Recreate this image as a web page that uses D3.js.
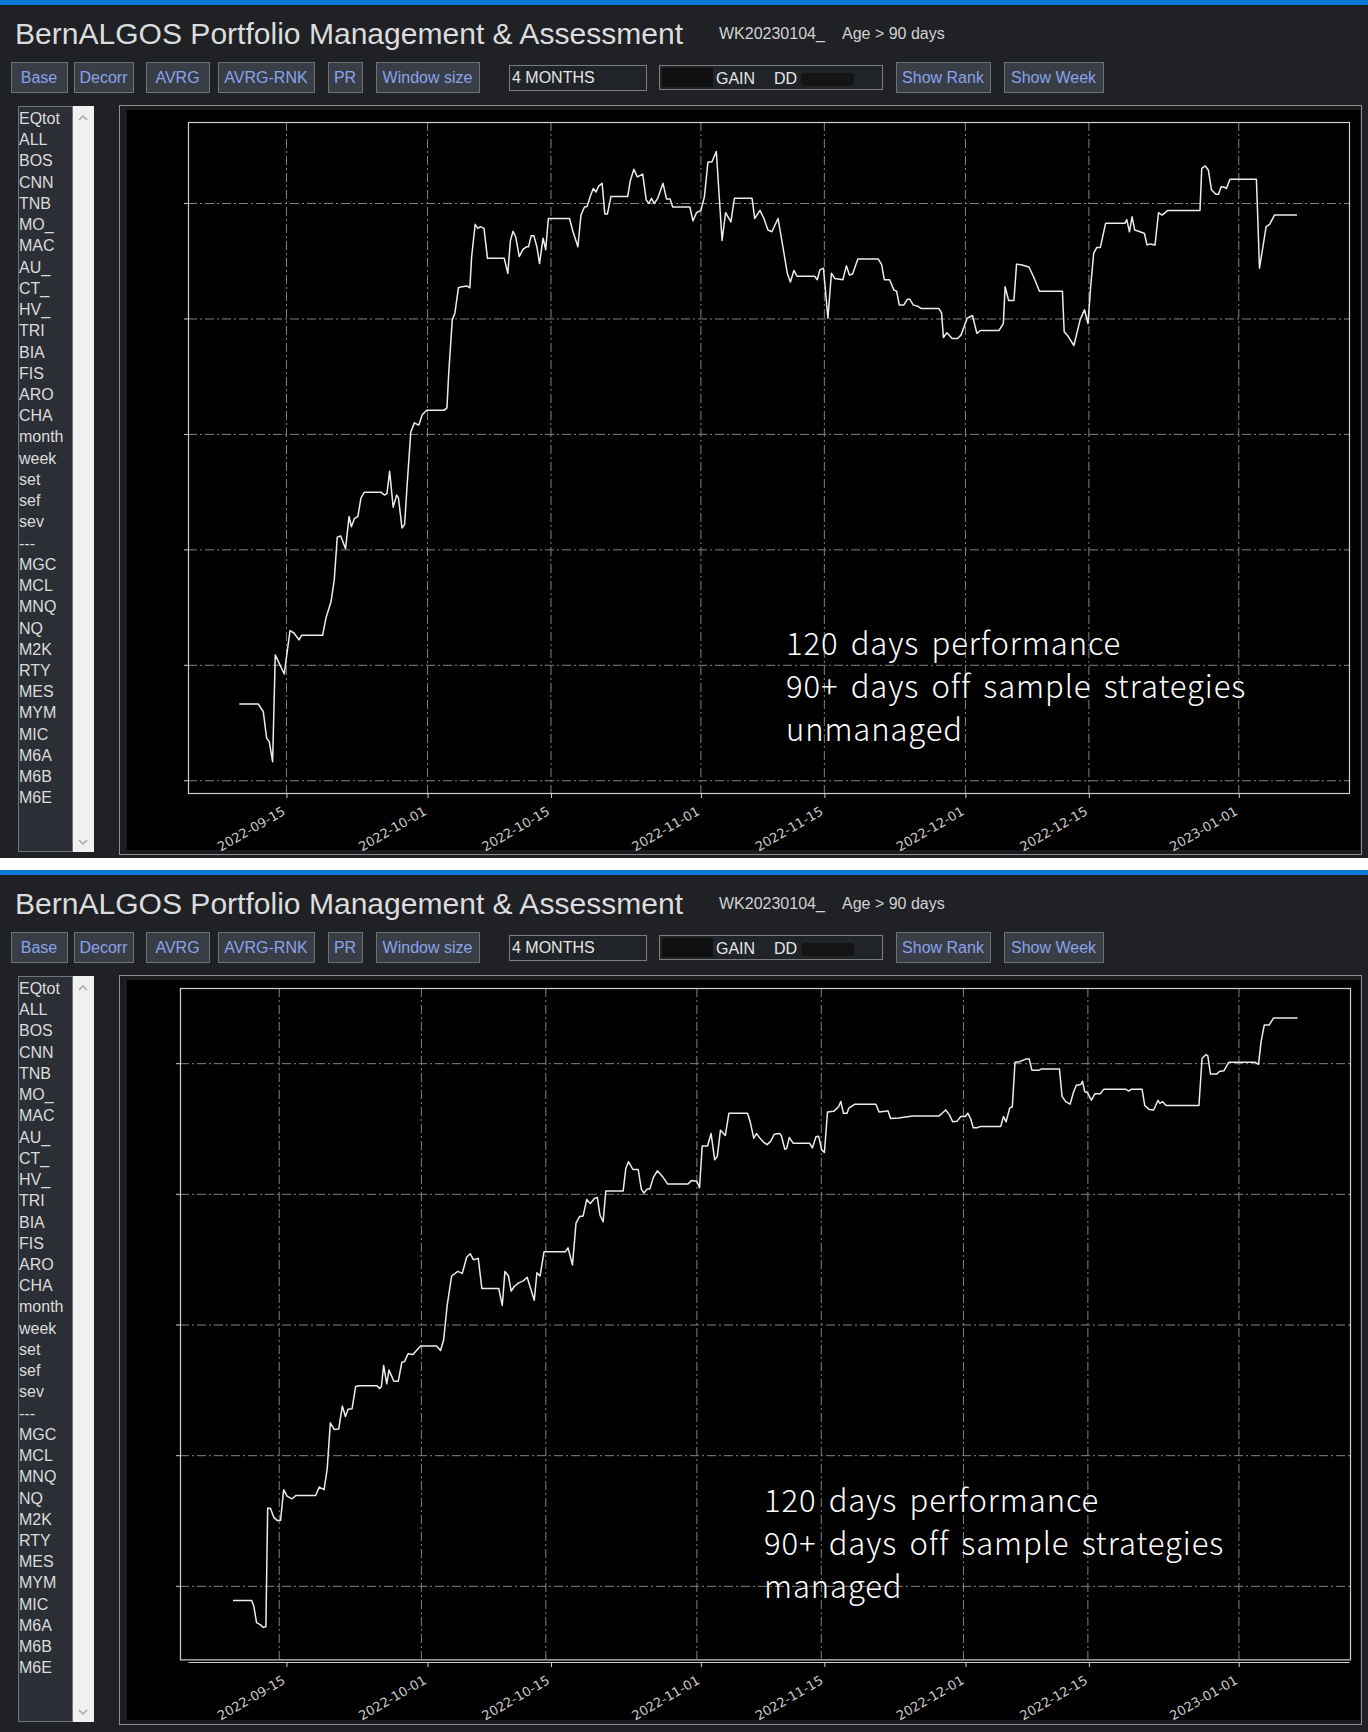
<!DOCTYPE html>
<html>
<head>
<meta charset="utf-8">
<script src="https://cdn.jsdelivr.net/npm/d3@7"></script>
<style>
  body { margin: 0; background: #ffffff; }
  svg { display: block; }
</style>
</head>
<body>
<div id="chart"></div>
<script>
// ---- data ----
// x = days after 2022-09-15, y = equity in grid units (one gridline = 10)

let days1 = [-5.35,-3.2,-2.63,-2.25,-1.95,-1.57,-1.27,-0.25,0.4,0.85,1.42,1.72,4.1,4.48,5.05,5.42,5.76,6.15,6.7,7.1,
  7.36,7.7,8.1,8.45,8.84,10.7,11.1,11.4,11.7,12.1,12.5,12.7,13.1,13.4,13.7,14.1,14.5,15.0,15.4,15.9,
  17.9,18.2,18.4,18.8,19.1,19.5,19.9,20.5,20.8,21.0,21.4,21.7,22.0,22.4,22.8,24.7,25.1,25.4,25.7,26.0,
  26.4,26.8,27.2,27.45,27.75,28.06,28.4,28.7,29.1,29.4,29.7,32.1,32.5,33.05,33.4,33.8,34.1,34.45,34.8,35.1,
  35.4,35.8,36.1,36.4,36.8,38.7,39.0,39.4,39.8,40.4,40.8,41.1,41.4,41.7,42.1,42.7,43.1,43.5,43.8,45.75,
  46.1,46.5,47.0,47.4,47.8,48.25,48.75,49.4,49.8,50.4,50.8,52.8,53.1,53.7,54.15,54.6,55.05,55.75,56.3,56.8,
  57.15,57.55,57.9,59.9,60.2,60.5,60.9,61.4,61.8,62.2,63.1,63.5,63.85,64.2,64.8,67.1,67.5,67.8,68.4,68.9,
  69.2,69.5,70.0,70.4,70.7,71.1,71.6,72.0,74.0,74.3,74.5,74.9,75.5,76.1,76.5,77.2,77.8,78.3,78.7,80.8,
  81.3,81.5,81.9,82.5,82.8,83.3,84.2,84.7,85.4,88.0,88.2,88.65,89.3,90.0,90.5,90.9,91.2,91.55,91.9,92.3,
  92.9,95.1,95.3,95.6,95.9,96.2,96.8,97.3,97.6,97.9,98.5,98.9,99.3,99.95,103.6,103.8,104.2,104.55,104.9,105.4,
  105.7,106.0,106.4,106.6,107.0,110.0,110.35,111.1,111.5,112.05,114.6]
let eqUnmanaged = [6.65,6.65,5.99,3.68,3.39,1.65,10.9,9.25,13.0,12.8,12.2,12.6,12.6,14.1,15.5,17.4,21.1,21.2,20.1,22.9,
  22.0,22.7,22.9,24.5,25.0,25.0,24.75,24.9,26.8,23.7,24.75,24.5,21.9,22.2,25.8,30.2,31.0,30.8,31.7,32.1,
  32.1,32.3,35.3,39.9,40.5,42.7,42.8,42.85,42.7,45.4,48.2,47.85,48.0,47.85,45.25,45.25,43.95,46.8,47.6,47.1,
  45.4,46.0,46.25,46.25,47.2,47.2,46.25,44.8,47.0,46.0,48.7,48.7,47.55,46.25,49.0,49.7,49.75,50.6,51.3,51.0,
  51.5,51.75,49.1,49.1,50.6,50.6,52.0,52.96,52.3,52.55,50.3,50.0,50.45,50.0,50.45,51.75,50.4,50.4,49.7,49.7,
  48.5,49.2,49.4,50.6,53.6,53.6,54.5,46.8,49.2,48.4,50.45,50.45,48.7,49.4,48.7,47.7,47.55,48.7,46.25,43.95,
  43.2,44.2,43.7,43.7,43.4,44.25,44.4,40.06,43.95,43.5,43.4,44.6,43.8,43.9,45.2,45.2,44.7,43.4,43.4,42.5,
  42.4,41.2,41.2,41.7,41.7,41.2,41.1,40.9,40.9,40.5,38.4,38.8,38.3,38.3,38.6,40.06,40.3,38.75,39.0,39.0,
  39.6,42.8,41.6,41.6,44.75,44.7,44.5,43.7,42.4,42.4,38.9,38.5,37.7,39.9,40.8,39.6,42.8,45.7,46.2,46.2,
  48.3,48.3,48.6,47.55,48.85,47.7,47.55,47.4,46.4,46.5,46.4,49.2,49.0,49.4,49.4,53.05,53.25,52.9,51.2,50.8,
  50.8,51.45,51.4,51.3,52.1,52.1,44.4,48.0,48.2,49.0,49.0]

let days2 = [-5.2,-3.1,-2.85,-2.55,-2.1,-1.83,-1.5,-1.3,-0.98,-0.63,-0.2,0.15,0.5,0.88,1.44,1.87,4.1,4.5,5.05,5.4,
  5.75,6.2,6.7,7.1,7.45,7.75,8.2,8.6,9.0,11.0,11.3,11.5,11.75,12.1,12.35,12.9,13.4,13.8,14.1,14.5,
  15.05,15.9,17.7,18.15,18.5,18.9,19.4,20.1,20.6,21.1,21.5,21.85,22.4,22.8,24.7,25.1,25.4,25.8,26.1,26.45,
  26.9,27.5,27.9,28.7,29.0,29.35,29.8,32.2,32.5,33.0,33.4,33.8,34.2,34.6,35.0,35.5,35.8,36.1,36.45,36.75,
  38.7,39.0,39.3,39.8,40.4,40.75,41.05,41.4,41.7,42.1,42.55,43.2,43.7,46.0,46.4,47.0,47.3,47.6,48.2,48.6,
  49.0,49.3,49.65,50.2,50.6,52.7,53.0,53.4,53.7,54.1,54.5,54.9,55.3,55.7,56.3,56.5,56.9,57.1,57.4,57.85,
  59.7,60.0,60.4,60.7,61.05,61.35,61.7,62.4,62.95,63.2,63.5,63.9,64.1,64.8,67.15,67.5,68.2,68.5,68.8,69.7,
  71.3,74.25,74.6,75.0,75.4,75.8,76.3,76.7,77.2,77.5,77.8,78.1,78.55,78.9,81.2,81.5,81.8,82.2,82.5,82.8,
  83.3,84.0,84.4,84.7,85.5,85.8,87.8,88.1,88.5,89.0,89.4,89.7,90.2,90.4,90.65,90.95,91.4,91.8,92.4,92.8,
  95.25,95.6,95.9,97.1,97.4,97.9,98.4,98.9,99.1,99.4,99.8,103.5,103.85,104.3,104.5,104.8,105.5,105.8,106.3,106.85,
  109.85,110.2,110.5,110.85,111.4,111.9,114.6]
let eqManaged = [-1.09,-1.09,-1.55,-2.78,-2.95,-3.13,-3.1,6.0,5.95,5.3,5.03,5.05,7.4,6.9,6.7,6.95,6.95,7.6,7.4,9.0,
  12.5,12.0,12.05,13.8,13.0,13.55,13.6,15.3,15.35,15.35,15.15,15.3,16.9,15.5,16.55,15.7,15.7,17.15,17.2,17.8,
  17.75,18.4,18.4,18.05,18.85,21.5,23.75,24.1,23.95,25.2,25.45,25.0,25.1,22.8,22.8,21.5,24.1,23.75,22.6,22.95,
  23.2,23.4,23.65,21.9,24.0,23.75,25.6,25.6,25.9,24.6,27.8,28.3,28.35,29.6,29.3,29.7,29.75,28.4,27.9,30.25,
  30.25,31.95,32.5,31.9,31.9,30.4,30.1,30.4,30.4,31.3,31.8,31.3,30.8,30.8,31.05,31.0,30.5,33.7,33.7,34.65,
  32.65,32.9,34.9,34.5,36.2,36.2,35.55,34.3,34.65,34.3,34.0,33.8,34.05,34.6,34.65,34.5,33.45,33.5,34.35,33.9,
  33.9,33.55,34.4,34.45,33.4,33.2,36.3,36.35,36.7,37.1,36.2,36.2,36.6,36.9,36.9,36.3,36.35,36.4,35.8,35.85,
  36.0,36.0,36.2,36.45,36.1,35.55,35.6,35.95,35.95,36.2,35.8,35.1,35.1,35.2,35.2,35.95,35.55,36.6,36.7,40.1,
  40.15,40.35,40.35,39.5,39.5,39.6,39.6,37.5,37.1,36.9,37.85,38.35,38.4,38.65,37.85,37.8,37.2,37.7,37.7,38.05,
  38.05,37.9,38.05,38.05,36.8,36.5,36.45,37.2,36.95,37.1,36.8,36.8,40.4,40.7,40.6,39.2,39.2,39.4,39.45,40.1,
  40.1,39.95,41.7,42.95,42.95,43.5,43.5]

let tickLabels = ["2022-09-15","2022-10-01","2022-10-15","2022-11-01","2022-11-15","2022-12-01","2022-12-15","2023-01-01"]
let gridY1 = [0, 10, 20, 30, 40, 50]
let gridY2 = [0, 10, 20, 30, 40]

let listItems = ["EQtot","ALL","BOS","CNN","TNB","MO_","MAC","AU_","CT_","HV_","TRI","BIA","FIS","ARO","CHA",
  "month","week","set","sef","sev","---","MGC","MCL","MNQ","NQ","M2K","RTY","MES","MYM","MIC","M6A","M6B","M6E"]
let buttonLabels = ["Base","Decorr","AVRG","AVRG-RNK","PR","Window size","Show Rank","Show Week"]
let noteLines1 = ["120 days performance", "90+ days off sample strategies", "unmanaged"]
let noteLines2 = ["120 days performance", "90+ days off sample strategies", "managed"]

// ---- layout ----
const W = 1368, H = 1732
const buttonBoxes = [[11,67],[74,133],[146,209],[218,314],[328,362],[376,479],[896,990],[1004,1103]]
const uiFont = "'Liberation Sans', Arial, sans-serif"
const noteFont = "300 31px 'Noto Sans CJK JP', 'Noto Sans', sans-serif"

let svg = d3.select("#chart").append("svg")
svg.attr("width", W).attr("height", H)

const parseDay = d3.timeParse("%Y-%m-%d")
const parseHour = d3.timeParse("%Y-%m-%d %H:%M")
const day0 = parseDay("2022-09-15")
const toDate = d => new Date(day0.getTime() + d * 864e5)
const xDomain = [parseHour("2022-09-03 20:00"), parseHour("2023-01-13 12:00")]
const tickDates = tickLabels.map(parseDay)

// the x axis strip of the top chart is reused under the bottom one
let xTop = d3.scaleTime().domain(xDomain).range([188, 1349])

let panels = [
  { oy: 0, bottom: 858, x: d3.scaleTime().domain(xDomain).range([188, 1349]),
    y: d3.scaleLinear().domain([-1.06, 57.06]).range([793, 122]),
    grid: gridY1, days: days1, vals: eqUnmanaged, axisY: 793, note: noteLines1, noteX: 786, noteY: 655 },
  { oy: 870, bottom: 1732, x: d3.scaleTime().domain(xDomain).range([180, 1350]),
    y: d3.scaleLinear().domain([-5.59, 45.79]).range([1659.4, 988]),
    grid: gridY2, days: days2, vals: eqManaged, axisY: 1662, note: noteLines2, noteX: 764, noteY: 1512 }
]

panels.forEach(p => {
  drawChrome(p)
  drawPlot(p)
})

function drawChrome(p) {
  let g = svg.append("g")
  let oy = p.oy

  g.append("rect").attr("x", 0).attr("y", oy).attr("width", W).attr("height", p.bottom - oy)
    .attr("fill", "#1f2125")
  g.append("rect").attr("x", 0).attr("y", oy).attr("width", W).attr("height", 5)
    .attr("fill", "#0a78d4")

  g.append("text").attr("x", 15).attr("y", oy + 43.5)
    .attr("textLength", 668).attr("lengthAdjust", "spacingAndGlyphs")
    .style("font", "29px " + uiFont).attr("fill", "#dcdcdc")
    .text("BernALGOS Portfolio Management & Assessment")
  g.append("text").attr("x", 719).attr("y", oy + 39)
    .style("font", "16px " + uiFont).attr("fill", "#d2d2d2").text("WK20230104_")
  g.append("text").attr("x", 842).attr("y", oy + 39)
    .style("font", "16px " + uiFont).attr("fill", "#d2d2d2").text("Age > 90 days")

  // buttons
  let btn = g.selectAll("g.btn").data(buttonLabels).enter().append("g")
  btn.append("rect")
    .attr("x", (d, i) => buttonBoxes[i][0] + 0.5).attr("y", oy + 62.5)
    .attr("width", (d, i) => buttonBoxes[i][1] - buttonBoxes[i][0]).attr("height", 30)
    .attr("fill", "#393d46").attr("stroke", "#6c717a")
  btn.append("text")
    .attr("x", (d, i) => (buttonBoxes[i][0] + buttonBoxes[i][1]) / 2).attr("y", oy + 83)
    .attr("text-anchor", "middle").style("font", "16px " + uiFont).attr("fill", "#89a3ea")
    .text(d => d)

  // input boxes
  g.append("rect").attr("x", 509.5).attr("y", oy + 65.5).attr("width", 137).attr("height", 25)
    .attr("fill", "#202327").attr("stroke", "#7d7d7d")
  g.append("text").attr("x", 512).attr("y", oy + 83)
    .style("font", "16px " + uiFont).attr("fill", "#e6e6e6").text("4 MONTHS")
  g.append("rect").attr("x", 659.5).attr("y", oy + 65.5).attr("width", 223).attr("height", 24)
    .attr("fill", "#202327").attr("stroke", "#7d7d7d")
  g.append("rect").attr("x", 662).attr("y", oy + 68).attr("width", 51).attr("height", 19).attr("fill", "#101011")
  g.append("rect").attr("x", 801).attr("y", oy + 73).attr("width", 53).attr("height", 13).attr("rx", 4)
    .attr("fill", "#141415")
  g.append("text").attr("x", 716).attr("y", oy + 84)
    .style("font", "16px " + uiFont).attr("fill", "#e6e6e6").text("GAIN")
  g.append("text").attr("x", 774).attr("y", oy + 84)
    .style("font", "16px " + uiFont).attr("fill", "#e6e6e6").text("DD")

  // list box + scrollbar
  g.append("rect").attr("x", 18.5).attr("y", oy + 106.5).attr("width", 54).attr("height", 745)
    .attr("fill", "#2b2e35").attr("stroke", "#70747c")
  g.append("rect").attr("x", 73).attr("y", oy + 106).attr("width", 21).attr("height", 746)
    .attr("fill", "#f0f0f0")
  g.append("path").attr("d", `M79,${oy + 120}l4,-4l4,4`).attr("fill", "none").attr("stroke", "#a6a6a6").attr("stroke-width", 1.5)
  g.append("path").attr("d", `M79,${oy + 840}l4,4l4,-4`).attr("fill", "none").attr("stroke", "#a6a6a6").attr("stroke-width", 1.5)
  g.selectAll("text.item").data(listItems).enter().append("text")
    .attr("x", 19).attr("y", (d, i) => oy + 124 + i * 21.23)
    .style("font", "16px " + uiFont).attr("fill", "#dcdcdc")
    .text(d => d)

  // chart frame
  g.append("rect").attr("x", 119.5).attr("y", oy + 105.5).attr("width", 1242).attr("height", 749)
    .attr("fill", "#1a1c20").attr("stroke", "#8e8e8e")
  g.append("rect").attr("x", 127).attr("y", oy + 110).attr("width", 1233).attr("height", 740)
    .attr("fill", "#000000")
}

function drawPlot(p) {
  let g = svg.append("g")
  let [x0, x1] = p.x.range()
  let [yb, yt] = p.y.range()
  let gridColor = "#828282", dash = "9,3,2,3"

  // horizontal grid + left ticks
  g.selectAll("line.hg").data(p.grid).enter().append("line")
    .attr("x1", x0).attr("x2", x1).attr("y1", d => p.y(d)).attr("y2", d => p.y(d))
    .attr("stroke", gridColor).attr("stroke-dasharray", dash)
  g.selectAll("line.yt").data(p.grid).enter().append("line")
    .attr("x1", x0 - 4).attr("x2", x0).attr("y1", d => p.y(d)).attr("y2", d => p.y(d))
    .attr("stroke", "#cfcfcf")

  // vertical grid
  g.selectAll("line.vg").data(tickDates).enter().append("line")
    .attr("x1", d => p.x(d)).attr("x2", d => p.x(d)).attr("y1", yt).attr("y2", yb)
    .attr("stroke", gridColor).attr("stroke-dasharray", dash)

  // frame
  g.append("rect").attr("x", x0 + 0.5).attr("y", yt + 0.5).attr("width", x1 - x0).attr("height", yb - yt)
    .attr("fill", "none").attr("stroke", "#cfcfcf").attr("stroke-width", 1.2)

  // equity line
  let pts = p.days.map((d, i) => [toDate(d), p.vals[i]])
  let line = d3.line().x(d => p.x(d[0])).y(d => p.y(d[1]))
  g.append("path").datum(pts).attr("d", line)
    .attr("fill", "none").attr("stroke", "#ececec").attr("stroke-width", 1.5)
    .attr("stroke-linejoin", "round")

  // date axis
  let axis = d3.axisBottom(xTop).tickValues(tickDates).tickFormat(d3.timeFormat("%Y-%m-%d"))
    .tickSize(5).tickSizeOuter(0)
  let gAx = g.append("g").attr("transform", `translate(0,${p.axisY})`).call(axis)
  gAx.select(".domain").attr("stroke", "#cfcfcf").attr("stroke-width", 1.2)
  gAx.selectAll(".tick line").attr("stroke", "#cfcfcf")
  gAx.selectAll(".tick text")
    .attr("x", 0).attr("y", 0).attr("dy", "0.35em")
    .attr("text-anchor", "end")
    .attr("transform", "translate(-3,17) rotate(-30)")
    .attr("fill", "#c8c8c8")
    .style("font", "13px 'DejaVu Sans', sans-serif")

  // annotation
  g.selectAll("text.note").data(p.note).enter().append("text")
    .attr("x", p.noteX).attr("y", (d, i) => p.noteY + i * 43)
    .style("font", noteFont).style("letter-spacing", "0.9px").style("word-spacing", "4.5px")
    .attr("fill", "#ffffff")
    .text(d => d)
}
</script>
</body>
</html>
